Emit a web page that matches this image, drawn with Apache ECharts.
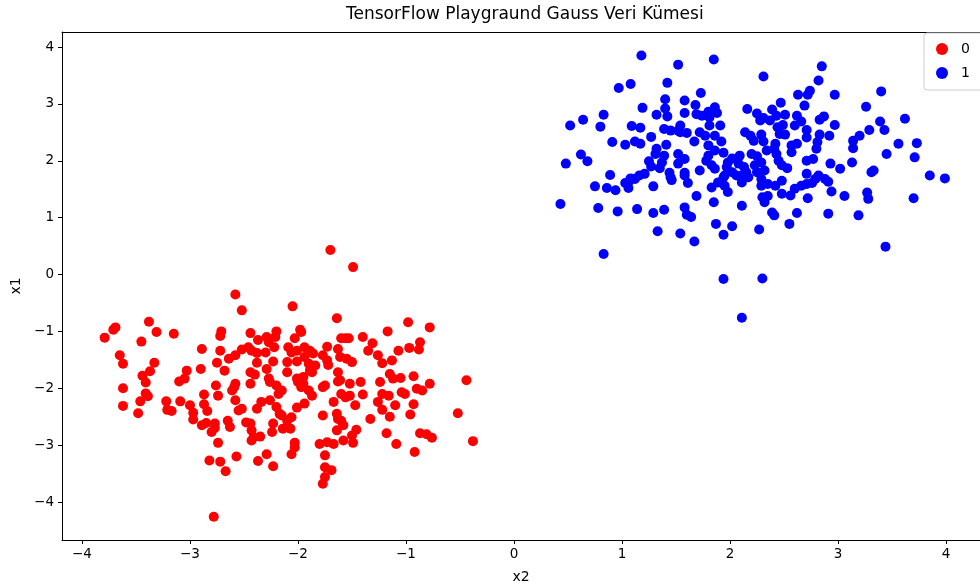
<!DOCTYPE html>
<html>
<head>
<meta charset="utf-8">
<script src="https://cdn.jsdelivr.net/npm/echarts@6/dist/echarts.min.js"></script>
<style>
  html, body { margin: 0; padding: 0; background: #fff; }
  #chart { width: 980px; height: 585px; }
</style>
</head>
<body>
<div id="chart"></div>
<script>
// Class 0 samples (x2, x1)
const class0 = [
  [-1.70,0.43],[-1.49,0.13],[-2.58,-0.35],[-2.52,-0.63],[-2.05,-0.56],[-1.64,-0.77],
  [-3.79,-1.11],[-3.71,-0.97],[-3.69,-0.93],[-3.38,-0.83],[-3.31,-1.01],[-3.45,-1.18],[-3.15,-1.04],
  [-3.65,-1.42],[-3.62,-1.57],[-3.33,-1.55],[-3.37,-1.70],[-3.44,-1.78],[-3.41,-1.90],[-3.03,-1.69],
  [-2.90,-1.66],[-2.89,-1.31],[-3.10,-1.88],[-3.05,-1.83],[-2.75,-1.55],[-2.72,-1.34],[-2.76,-1.95],
  [-3.62,-2.00],[-3.41,-2.09],[-3.39,-2.14],[-3.46,-2.23],[-3.62,-2.31],[-3.48,-2.44],[-3.22,-2.23],
  [-3.21,-2.38],[-3.17,-2.40],[-3.09,-2.23],[-3.00,-2.30],[-2.97,-2.43],[-2.97,-2.55],[-2.89,-2.65],
  [-2.85,-2.61],[-2.87,-2.28],[-2.87,-2.11],[-2.84,-2.40],[-2.80,-2.77],[-2.77,-2.70],[-2.74,-2.13],
  [-2.74,-2.96],[-2.82,-3.27],[-2.72,-3.29],[-2.78,-4.26],
  [-2.71,-1.00],[-2.72,-1.08],[-2.44,-1.03],[-2.37,-1.15],[-2.29,-1.10],[-2.20,-1.00],[-2.21,-1.10],
  [-2.27,-1.19],[-2.22,-1.28],[-1.98,-0.97],[-1.97,-1.01],[-2.03,-1.12],[-2.68,-1.69],[-2.64,-1.48],
  [-2.58,-1.42],[-2.52,-1.32],[-2.46,-1.28],[-2.43,-1.34],[-2.38,-1.38],[-2.30,-1.37],[-2.38,-1.55],
  [-2.44,-1.72],[-2.40,-1.76],[-2.29,-1.66],[-2.23,-1.53],[-2.27,-1.83],[-2.09,-1.28],[-2.06,-1.37],
  [-2.01,-1.34],[-1.94,-1.28],[-1.89,-1.34],[-1.86,-1.39],[-2.10,-1.54],[-2.01,-1.53],[-1.94,-1.45],
  [-1.90,-1.57],[-1.84,-1.60],[-1.89,-1.69],[-2.10,-1.72],[-2.01,-1.83],[-1.95,-1.80],[-1.87,-1.72],
  [-1.73,-1.27],[-1.77,-1.42],[-1.73,-1.51],[-1.72,-1.59],[-1.63,-1.31],[-1.61,-1.45],[-1.60,-1.12],
  [-1.63,-1.72],[-1.63,-1.88],[-1.75,-1.95],[-2.00,-1.89],[-1.95,-1.92],[-2.44,-1.92],[-2.58,-1.92],
  [-0.98,-0.84],[-0.78,-0.93],[-1.17,-1.00],[-1.40,-1.10],[-1.56,-1.12],[-1.53,-1.12],[-1.31,-1.21],
  [-1.35,-1.34],[-1.26,-1.42],[-1.07,-1.34],[-0.97,-1.29],[-0.87,-1.19],[-0.88,-1.32],[-1.13,-1.51],
  [-1.22,-1.56],[-1.55,-1.48],[-1.50,-1.54],[-1.15,-1.75],[-1.12,-1.83],[-1.05,-1.82],[-0.93,-1.79],
  [-1.42,-1.89],[-1.24,-1.89],[-1.52,-1.92],[-0.78,-1.92],[-0.44,-1.86],[-1.61,-1.86],
  [-1.40,-2.11],[-1.56,-2.16],[-1.52,-2.13],[-1.47,-2.30],[-1.60,-2.57],[-1.58,-2.65],[-1.46,-2.73],
  [-1.50,-2.83],[-1.58,-2.92],[-1.49,-2.96],[-1.33,-2.54],[-1.22,-2.10],[-1.16,-2.13],[-1.26,-2.24],
  [-1.22,-2.38],[-1.15,-2.50],[-1.10,-2.30],[-1.04,-2.07],[-1.01,-2.10],[-0.93,-2.28],[-0.96,-2.46],
  [-0.90,-2.01],[-0.85,-2.04],[-1.18,-2.79],[-1.09,-2.98],[-0.92,-3.12],[-0.87,-2.79],[-0.81,-2.81],
  [-0.76,-2.87],[-0.52,-2.44],[-0.38,-2.93],
  [-2.59,-1.98],[-2.61,-2.04],[-2.26,-1.89],[-2.20,-1.95],[-2.15,-2.04],[-2.18,-2.10],[-1.97,-1.98],
  [-1.90,-2.04],[-1.87,-2.13],[-1.77,-1.98],[-1.60,-2.10],[-2.58,-2.21],[-2.55,-2.39],[-2.52,-2.36],
  [-2.38,-2.36],[-2.34,-2.24],[-2.26,-2.21],[-2.20,-2.33],[-2.17,-2.45],[-2.15,-2.48],[-2.06,-2.51],
  [-2.01,-2.34],[-1.94,-2.27],[-1.77,-2.48],[-1.67,-2.24],[-2.77,-2.62],[-2.65,-2.57],[-2.63,-2.68],
  [-2.48,-2.60],[-2.44,-2.62],[-2.43,-2.74],[-2.41,-2.86],[-2.43,-2.92],[-2.35,-2.85],[-2.23,-2.62],
  [-2.24,-2.77],[-2.14,-2.71],[-2.07,-2.71],[-2.10,-2.57],[-2.03,-2.96],[-2.03,-3.04],[-2.06,-3.16],
  [-1.64,-2.45],[-1.63,-2.54],[-1.64,-2.74],[-1.80,-2.98],[-1.73,-2.95],[-1.67,-2.98],
  [-1.75,-3.18],[-1.75,-3.39],[-1.69,-3.44],[-1.75,-3.56],[-1.77,-3.68],[-2.67,-3.46],
  [-2.57,-3.20],[-2.37,-3.28],[-2.29,-3.16],[-2.23,-3.37]
];

// Class 1 samples (x2, x1)
const class1 = [
  [1.18,3.85],[1.52,3.69],[0.97,3.28],[1.08,3.35],[1.42,3.37],[1.40,3.08],[1.19,2.93],[1.40,2.92],
  [1.32,2.81],[1.42,2.78],[0.83,2.81],[0.64,2.72],[0.52,2.62],[0.80,2.60],[1.09,2.61],[1.17,2.58],
  [1.39,2.56],[1.45,2.53],[1.52,2.53],[1.27,2.42],[0.91,2.33],[1.03,2.28],[1.12,2.34],[1.17,2.30],
  [1.41,2.28],[1.32,2.21],[1.31,2.12],[1.39,2.09],[1.37,1.97],[1.52,2.12],[1.52,1.95],[1.25,1.99],
  [1.27,1.90],[0.62,2.11],[0.68,1.99],[0.48,1.95],[1.35,1.87],[1.44,1.79],[1.45,1.71],[0.89,1.75],
  [1.08,1.69],[1.16,1.74],[1.21,1.77],
  [0.75,1.55],[0.86,1.52],[0.94,1.48],[1.03,1.61],[1.07,1.65],[1.12,1.68],[1.06,1.52],[1.29,1.55],
  [1.46,1.66],[0.43,1.24],[0.78,1.17],[0.96,1.11],[1.14,1.15],[1.29,1.08],[1.39,1.14],[1.33,0.76],
  [1.54,0.72],[0.83,0.36],
  [1.61,1.61],[1.58,1.74],[1.69,1.38],[1.58,1.18],[1.60,1.05],[1.64,1.01],[1.67,0.58],[1.85,1.27],
  [1.87,0.89],[1.94,0.70],[2.02,0.85],[2.11,1.21],[2.27,0.79],[1.94,-0.08],[2.30,-0.07],[2.11,-0.76],
  [2.30,1.36],[2.32,1.27],[2.35,1.38],[2.39,1.09],[2.41,1.04],[2.55,0.89],[2.62,1.08],[2.72,1.34],
  [1.83,1.53],[1.89,1.62],[1.95,1.56],[1.98,1.45],[1.94,1.71],[2.11,1.62],[2.17,1.71],[2.29,1.56],
  [2.35,1.59],[2.42,1.56],[2.48,1.42],[2.56,1.39],[2.60,1.51],[2.66,1.56],[2.71,1.59],[2.29,1.68],
  [2.48,1.65],
  [2.94,1.46],[3.06,1.38],[3.27,1.44],[3.28,1.33],[2.91,1.07],[3.19,1.04],[3.70,1.34],[3.44,0.49],
  [3.85,1.74],[3.99,1.69],[2.79,1.68],[2.88,1.68],[2.91,1.63],[2.76,1.61],
  [2.85,3.66],[2.82,3.41],[2.74,3.23],[2.72,3.16],[2.97,3.16],[3.40,3.22],[2.69,2.97],[3.26,2.95],
  [2.83,2.72],[2.87,2.78],[2.97,2.63],[3.62,2.74],[3.39,2.69],[3.43,2.54],[3.29,2.54],[3.20,2.44],
  [3.14,2.35],[3.14,2.22],[2.71,2.54],[2.71,2.41],[2.83,2.46],[2.92,2.44],[2.81,2.33],[2.80,2.21],
  [3.56,2.30],[3.73,2.31],[3.45,2.12],[3.71,2.06],[2.77,2.03],[3.13,1.97],[2.93,1.95],[3.02,1.86],
  [3.31,1.80],[3.33,1.83],[2.71,1.77],[2.82,1.74],
  [1.85,3.78],[2.31,3.48],[1.73,3.19],[1.58,3.06],[1.68,2.98],[1.58,2.84],[1.86,2.94],[1.88,2.84],
  [1.69,2.82],[1.74,2.79],[1.80,2.86],[1.81,2.76],[1.91,2.62],[1.54,2.62],[1.54,2.50],[1.60,2.49],
  [1.72,2.50],[1.77,2.44],[1.81,2.62],[1.86,2.44],[1.92,2.34],[1.67,2.34],[1.80,2.27],[1.86,2.18],
  [1.94,2.14],[1.58,2.03],[1.80,2.09],[1.78,2.00],[1.83,1.92],[1.72,1.83],[1.58,1.79],[1.86,1.86],
  [1.98,1.97],[2.02,2.04],[1.97,1.89],[1.95,1.74],[2.09,2.09],[2.08,1.95],[2.13,1.89],[2.15,1.80],
  [2.11,1.74],[2.16,2.91],[2.25,2.83],[2.28,2.71],[2.31,2.75],[2.39,2.90],[2.37,2.71],[2.47,3.02],
  [2.14,2.50],[2.19,2.44],[2.22,2.35],[2.29,2.46],[2.31,2.34],[2.43,2.79],[2.51,2.81],[2.49,2.63],
  [2.46,2.47],[2.51,2.46],[2.44,2.59],[2.42,2.30],[2.41,2.21],[2.34,2.18],[2.20,2.12],[2.25,2.08],
  [2.43,2.12],[2.45,2.00],[2.48,1.92],[2.53,1.87],[2.29,1.97],[2.23,1.92],[2.32,1.83],[2.25,1.80],
  [2.02,1.80],[2.06,1.74],[2.63,3.16],[2.62,2.79],[2.60,2.62],[2.66,2.69],[2.57,2.27],[2.62,2.30],
  [2.57,2.15],[2.71,2.00]
];

const seriesNames = ['0', '1'];
const seriesColors = ['#ff0000', '#0000ff'];
const xTicks = [-4, -3, -2, -1, 0, 1, 2, 3, 4];
const yTicks = [-4, -3, -2, -1, 0, 1, 2, 3, 4];

const FONT = 'DejaVu Sans';
const X_MIN = -4.185, X_MAX = 4.315;
const Y_MIN = -4.668, Y_MAX = 4.264;
const minusFmt = v => (v < 0 ? '\u2212' + Math.abs(v) : String(v));

const chart = echarts.init(document.getElementById('chart'), null, { renderer: 'canvas' });

chart.setOption({
  animation: false,
  backgroundColor: '#ffffff',
  textStyle: { fontFamily: FONT },
  title: {
    text: 'TensorFlow Playgraund Gauss Veri Kümesi',
    left: 346,
    top: 6,
    padding: 0,
    textStyle: { fontFamily: FONT, fontSize: 17, fontWeight: 'normal', color: '#000' }
  },
  grid: {
    left: 62, top: 32, right: 0, bottom: 45,
    outerBoundsMode: 'none',
    containLabel: false,
    show: false
  },
  legend: {
    orient: 'vertical',
    left: 924,
    top: 33,
    padding: [9, 30, 10, 12],
    itemWidth: 12,
    itemHeight: 12,
    itemGap: 10,
    icon: 'circle',
    borderColor: '#cccccc',
    borderWidth: 1,
    borderRadius: 3,
    backgroundColor: 'rgba(255,255,255,0.8)',
    textStyle: { fontFamily: FONT, fontSize: 14, color: '#000', padding: [0, 0, 0, 8] },
    data: seriesNames
  },
  xAxis: [
    {
      type: 'value',
      position: 'bottom',
      min: X_MIN,
      max: X_MAX,
      name: 'x2',
      nameLocation: 'middle',
      nameGap: 30,
      nameTextStyle: { fontFamily: FONT, fontSize: 14, color: '#000' },
      splitLine: { show: false },
      axisLine: { show: true, onZero: false, lineStyle: { color: '#000' } },
      axisTick: { show: true, length: 4, customValues: xTicks, lineStyle: { color: '#000' } },
      axisLabel: { customValues: xTicks, margin: 7, fontFamily: FONT, fontSize: 13.5, color: '#000',
                   formatter: minusFmt }
    },
    {
      // top frame line
      type: 'value',
      position: 'top',
      min: X_MIN,
      max: X_MAX,
      splitLine: { show: false },
      axisLine: { show: true, onZero: false, lineStyle: { color: '#000' } },
      axisTick: { show: false },
      axisLabel: { show: false }
    }
  ],
  yAxis: {
    type: 'value',
    min: Y_MIN,
    max: Y_MAX,
    name: 'x1',
    nameLocation: 'middle',
    nameGap: 38,
    nameRotate: 90,
    nameTextStyle: { fontFamily: FONT, fontSize: 14, color: '#000' },
    splitLine: { show: false },
    axisLine: { show: true, onZero: false, lineStyle: { color: '#000' } },
    axisTick: { show: true, length: 4, customValues: yTicks, lineStyle: { color: '#000' } },
    axisLabel: { customValues: yTicks, margin: 8, fontFamily: FONT, fontSize: 13.5, color: '#000',
                 formatter: minusFmt }
  },
  series: [
    {
      name: seriesNames[0], type: 'scatter', data: class0, xAxisIndex: 0,
      symbol: 'circle', symbolSize: 10,
      itemStyle: { color: seriesColors[0], opacity: 1 }
    },
    {
      name: seriesNames[1], type: 'scatter', data: class1, xAxisIndex: 0,
      symbol: 'circle', symbolSize: 10,
      itemStyle: { color: seriesColors[1], opacity: 1 }
    }
  ]
});
</script>
</body>
</html>
